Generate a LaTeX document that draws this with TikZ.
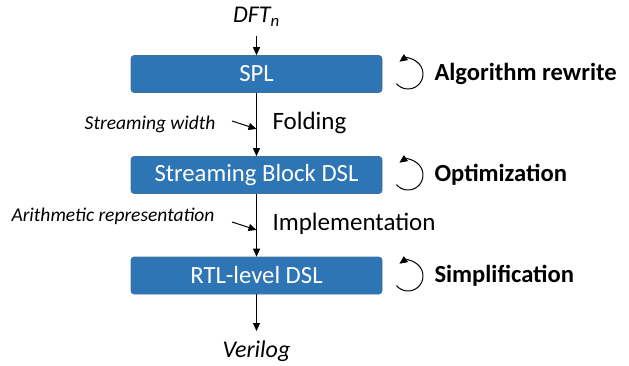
\documentclass[tikz,border=0pt]{standalone}
\usepackage{fontspec}
\setmainfont{Carlito}
\usetikzlibrary{arrows.meta}
\definecolor{stageblue}{RGB}{46,117,182}
\definecolor{stageedge}{RGB}{65,113,156}
\tikzset{
  stagebox/.style={draw=stageedge, line width=0.6pt, fill=stageblue, rounded corners=3pt,
    minimum width=251pt, minimum height=37pt, inner sep=0pt,
    text=white, font=\fontsize{24.7}{27}\selectfont},
  flow/.style={line width=1pt, -{Triangle[length=8pt,width=7pt]}},
  hint/.style={font=\itshape\fontsize{19.5}{21}\selectfont, anchor=east},
  steplabel/.style={font=\fontsize{25}{27}\selectfont, anchor=west},
  passlabel/.style={font=\bfseries\fontsize{24.6}{27}\selectfont, anchor=west},
  loop/.style={line width=1pt, -{Triangle[length=8pt,width=7pt]}}
}
\begin{document}
\begin{tikzpicture}[x=1pt,y=-1pt]
\useasboundingbox (0,0) rectangle (629,366);

% pipeline stages
\node[stagebox] (spl) at (256.5,74) {SPL};
\node[stagebox] (sbd) at (256.5,175) {Streaming Block DSL};
\node[stagebox] (rtl) at (256.5,275.5) {RTL-level DSL};

% input and output
\node[font=\itshape\fontsize{24}{26}\selectfont] (dft) at (256.5,17) {DFT\textsubscript{\itshape n}};
\node[font=\itshape\fontsize{24}{26}\selectfont] (vlog) at (256.5,351) {Verilog};
\coordinate (dftend) at (256.5,36);
\coordinate (vlogend) at (256.5,331);

\draw[flow] (dftend) -- (spl.north);
\draw[flow] (spl.south) -- (sbd.north);
\draw[flow] (sbd.south) -- (rtl.north);
\draw[flow] (rtl.south) -- (vlogend);

% transformation labels
\node[steplabel] (fold) at (269,123) {Folding};
\node[steplabel] (impl) at (269,224) {Implementation};

% parameters fed into the transformations
\node[hint] (sw) at (219,124) {Streaming width};
\node[hint] (ar) at (218,216) {Arithmetic representation};
\coordinate (swtip) at (256.5,129);
\coordinate (artip) at (256.5,230);
\draw[loop] (232,121) -- (swtip);
\draw[loop] (232,222) -- (artip);

% in-place passes on each stage (y axis points down, so angles run clockwise)
\foreach \nm/\cy/\txt in {a/74/Algorithm rewrite, b/175/Optimization, c/276/Simplification}{
  \coordinate (c\nm) at (408,\cy);
  \draw[loop] ([shift={(140:15)}]c\nm) arc[start angle=140, end angle=-125, radius=15];
  \node[passlabel] (p\nm) at (431,\cy) {\txt};
}
\end{tikzpicture}
\end{document}
